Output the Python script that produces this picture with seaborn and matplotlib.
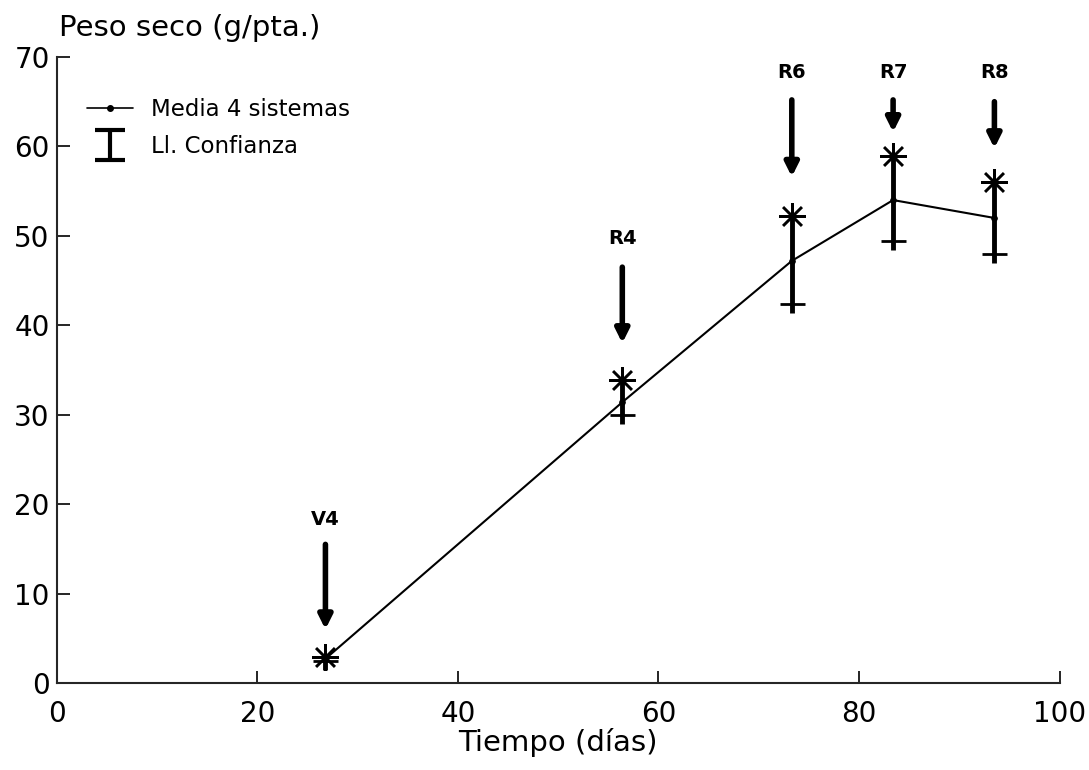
import matplotlib
matplotlib.use("Agg")
import matplotlib.pyplot as plt
import seaborn as sns
import pandas as pd
from matplotlib.lines import Line2D
from matplotlib.path import Path

# data
dias = [26.8, 56.4, 73.3, 83.4, 93.5]
media = [2.7, 31.4, 47.2, 54.0, 52.0]
li_sup = [2.9, 33.9, 52.2, 58.9, 56.0]
li_inf = [2.5, 30.0, 42.4, 49.4, 48.0]

# phenological stages (arrows)
estados = ["V4", "R4", "R6", "R7", "R8"]
flecha_ini = [15.5, 46.5, 65.2, 65.2, 65.0]
flecha_fin = [6.0, 38.0, 56.6, 61.6, 59.8]
etiqueta_y = [17.2, 48.6, 67.2, 67.2, 67.2]

df = pd.DataFrame({"dias": dias, "media": media})

sns.set_style("ticks")
plt.rcParams["font.family"] = ["DejaVu Sans"]
plt.rcParams["text.color"] = "black"
plt.rcParams["axes.labelcolor"] = "black"
plt.rcParams["xtick.color"] = "black"
plt.rcParams["ytick.color"] = "black"

fig = plt.figure(figsize=(10.89, 7.7), dpi=100)
ax = fig.add_axes([0.052, 0.113, 0.921, 0.813])

# confidence limits
ax.vlines(dias, [v - 1.0 for v in li_inf], li_sup, color="black", lw=3.5, zorder=2)
ax.plot(dias, li_sup, ls="none", marker=(8, 2, 0), ms=19, mew=1.8, color="black", zorder=3)
ax.plot(dias, li_inf, ls="none", marker="_", ms=18, mew=2, color="black", zorder=3)

# mean line
sns.lineplot(data=df, x="dias", y="media", color="black", lw=1.5, marker="o",
             markersize=4, markeredgecolor="black", ax=ax, zorder=4)

for x, lab, y0, y1, yl in zip(dias, estados, flecha_ini, flecha_fin, etiqueta_y):
    ax.annotate("", xy=(x, y1), xytext=(x, y0),
                arrowprops=dict(arrowstyle="-|>", lw=4, color="black", mutation_scale=20,
                                shrinkA=0, shrinkB=0))
    ax.text(x, yl, lab, ha="center", va="bottom", fontsize=14, fontweight="bold")

ax.set_xlim(0, 100)
ax.set_ylim(0, 70)
ax.set_xticks([0, 20, 40, 60, 80, 100])
ax.set_yticks([0, 10, 20, 30, 40, 50, 60, 70])
ax.tick_params(direction="in", length=9, width=1.2, labelsize=20)
ax.tick_params(axis="x", pad=12)
ax.tick_params(axis="y", pad=5)
sns.despine(ax=ax)
for s in ["left", "bottom"]:
    ax.spines[s].set_linewidth(1.5)

ax.set_xlabel("Tiempo (días)", fontsize=21, labelpad=0)
ax.set_ylabel("")
fig.text(0.054, 0.963, "Peso seco (g/pta.)", fontsize=21, va="center", ha="left")

# legend
ibeam = Path([(-1, -1), (1, -1), (0, -1), (0, 1), (-1, 1), (1, 1)],
             [Path.MOVETO, Path.LINETO, Path.MOVETO, Path.LINETO, Path.MOVETO, Path.LINETO])
h1 = Line2D([], [], color="black", lw=1.2, marker="o", ms=4)
h2 = Line2D([], [], ls="none", marker=ibeam, ms=22, mew=3, color="black")
ax.legend([h1, h2], ["Media 4 sistemas", "Ll. Confianza"], loc="upper left",
          bbox_to_anchor=(0.01, 0.967), frameon=False, fontsize=16.5,
          handlelength=2.0, labelspacing=0.6)

fig.savefig("out.png", dpi=100)
